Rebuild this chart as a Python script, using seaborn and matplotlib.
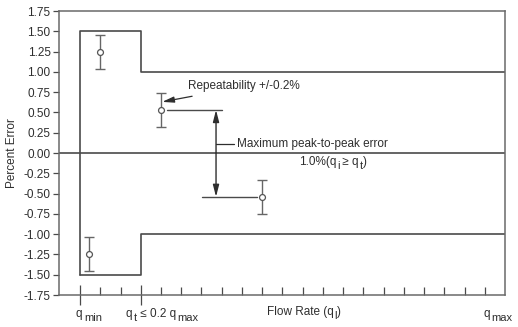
import matplotlib
matplotlib.use("Agg")
import matplotlib.pyplot as plt
from matplotlib.transforms import IdentityTransform
import seaborn as sns
import pandas as pd

# Tolerance envelope (flow-rate units: tick index, q_min = 0, q_t = 3, q_max = 21)
env_upper_x = [0, 0, 3, 3, 21]
env_upper_y = [-1.5, 1.5, 1.5, 1.0, 1.0]
env_lower_x = [0, 3, 3, 21]
env_lower_y = [-1.5, -1.5, -1.0, -1.0]

# Measured errors with repeatability bars
meas_x = [1.0, 0.45, 4.0, 9.0]
meas_y = [1.24, -1.24, 0.53, -0.54]
meas_err = [0.21, 0.21, 0.21, 0.21]

# Peak-to-peak markers
peak_hi = 0.53
peak_lo = -0.54

y_ticks = [-1.75, -1.5, -1.25, -1.0, -0.75, -0.5, -0.25, 0.0,
           0.25, 0.5, 0.75, 1.0, 1.25, 1.5, 1.75]
x_minor = [1, 2] + list(range(4, 21))
x_major = [0, 3]

sns.set_theme(style="white")
plt.rcParams["font.family"] = ["Liberation Sans", "DejaVu Sans"]
plt.rcParams["axes.unicode_minus"] = False

line_c = "#4a4a4a"
text_c = "#2e2e2e"
FS = 8.5
SUB_FS = 8.0

W, H = 518, 327
fig = plt.figure(figsize=(W / 100, H / 100), dpi=100)
ax = fig.add_axes([59 / W, 1 - 295 / H, (505 - 59) / W, (295 - 11) / H])
renderer = fig.canvas.get_renderer()


def rich_text(x_left, y_mid, pieces, sub_gap=2.0):
    """Draw text pieces left to right in pixel coords (top-left origin);
    pieces flagged True are drawn as lowered subscripts."""
    x = x_left
    for s, sub in pieces:
        if sub:
            x += sub_gap
        t = fig.text(x, H - y_mid - (4 if sub else 0), s,
                     transform=IdentityTransform(),
                     fontsize=SUB_FS if sub else FS, color=text_c,
                     ha="left", va="center_baseline")
        bb = t.get_window_extent(renderer)
        x = bb.x1


up = pd.DataFrame({"x": env_upper_x, "y": env_upper_y})
lo = pd.DataFrame({"x": env_lower_x, "y": env_lower_y})
sns.lineplot(data=up, x="x", y="y", sort=False, estimator=None, color=line_c, lw=1.2, ax=ax)
sns.lineplot(data=lo, x="x", y="y", sort=False, estimator=None, color=line_c, lw=1.2, ax=ax)

ax.axhline(0, color=line_c, lw=1.2)

ax.errorbar(meas_x, meas_y, yerr=meas_err, fmt="none", ecolor="#666666",
            elinewidth=1.0, capsize=3.5, capthick=1.0, zorder=3)
sns.scatterplot(x=meas_x, y=meas_y, ax=ax, marker="o", s=18,
                facecolor="white", edgecolor="#555555", linewidth=0.9, zorder=4)

# Peak-to-peak reference lines and double arrow
head = "-|>,head_length=0.7,head_width=0.18"
ax.plot([4.3, 7.03], [peak_hi, peak_hi], color=line_c, lw=1.0)
ax.plot([6.04, 8.76], [peak_lo, peak_lo], color=line_c, lw=1.0)
for yy in (peak_hi, peak_lo):
    ax.annotate("", xy=(6.72, yy), xytext=(6.72, 0.0),
                arrowprops=dict(arrowstyle=head, color=text_c, lw=1.0,
                                mutation_scale=10, shrinkA=0, shrinkB=0))
ax.plot([6.72, 7.6], [0.11, 0.11], color=text_c, lw=0.9)
ax.text(7.78, 0.11, "Maximum peak-to-peak error", fontsize=FS,
        color=text_c, va="center", ha="left")

ax.annotate("Repeatability +/-0.2%", xy=(4.06, 0.63), xytext=(5.35, 0.82),
            fontsize=FS, color=text_c, va="center", ha="left",
            arrowprops=dict(arrowstyle=head, color=text_c, lw=0.9,
                            mutation_scale=10, shrinkA=2, shrinkB=0))

ax.set_xlim(-1.04, 21)
ax.set_ylim(-1.75, 1.75)
ax.set_yticks(y_ticks)
ax.set_yticklabels([f"{v:.2f}" for v in y_ticks], fontsize=FS, color=text_c)
ax.tick_params(axis="y", direction="out", length=4, width=0.9, color=line_c, pad=2,
               left=True)

ax.set_xticks(x_major)
ax.set_xticklabels([])
ax.tick_params(axis="x", which="major", direction="inout", length=15, width=0.9,
               color=line_c, bottom=True)
ax.set_xticks(x_minor, minor=True)
ax.tick_params(axis="x", which="minor", direction="in", length=6, width=0.9,
               color=line_c, bottom=True)

for s in ax.spines.values():
    s.set_color("#6a6a6a")
    s.set_linewidth(1.1)

ax.set_xlabel("")
ax.set_ylabel("Percent Error", fontsize=FS, color=text_c, labelpad=4)

# Annotation and axis captions with subscripts
rich_text(299, 161, [("1.0%(q", False), ("i", True), (" \u2265 q", False),
                     ("t", True), (")", False)], sub_gap=0.5)
rich_text(76, 313, [("q", False), ("min", True)])
rich_text(125, 313, [("q", False), ("t", True), (" \u2264 0.2 q", False),
                     ("max", True)])
rich_text(267, 311, [("Flow Rate (q", False), ("l", True), (")", False)],
          sub_gap=0.5)
rich_text(483, 313, [("q", False), ("max", True)])

fig.savefig("out.png", dpi=100)
